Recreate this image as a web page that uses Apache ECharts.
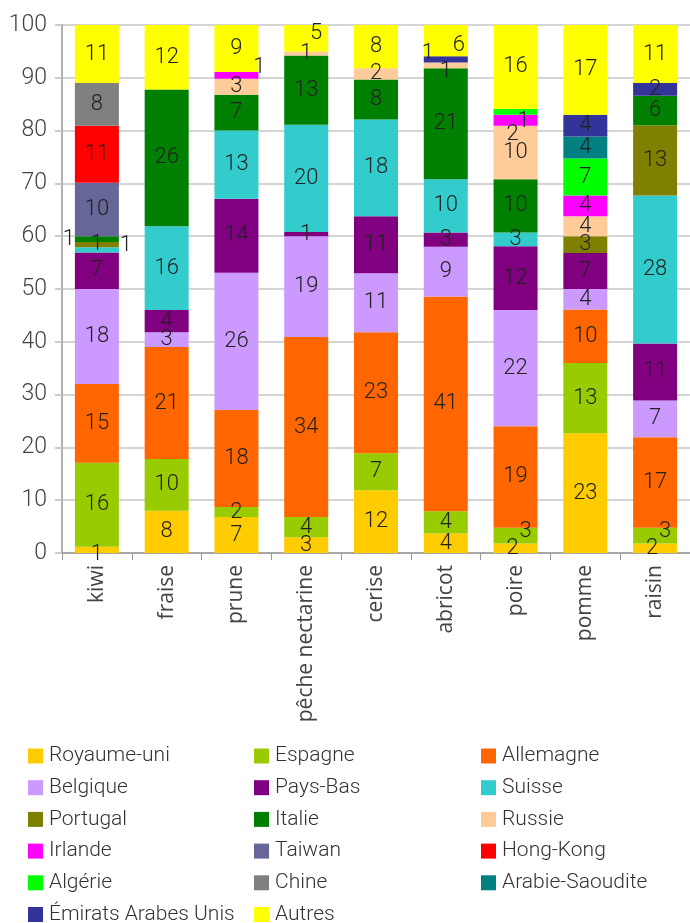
<!DOCTYPE html>
<html>
<head>
<meta charset="utf-8">
<script src="https://cdn.jsdelivr.net/npm/echarts@6/dist/echarts.min.js"></script>
<style>
  html, body { margin: 0; padding: 0; background: #fff; }
  #main { width: 690px; height: 923px; }
</style>
</head>
<body>
<div id="main"></div>
<script>
// parts de marché par fruit (en %)
var categories = ['kiwi', 'fraise', 'prune', 'pêche nectarine', 'cerise', 'abricot', 'poire', 'pomme', 'raisin'];
var yTicks = [0, 10, 20, 30, 40, 50, 60, 70, 80, 90, 100];

var royaumeUni = [1.2, 8.0, 6.8, 3.0, 11.9, 3.7, 1.8, 22.7, 1.8];
var espagne    = [15.9, 9.8, 1.9, 3.8, 7.0, 4.2, 3.0, 13.3, 3.0];
var allemagne  = [14.9, 21.2, 18.4, 34.1, 22.9, 40.7, 19.2, 10.1, 17.1];
var belgique   = [18.0, 2.8, 26.0, 19.1, 11.2, 9.4, 22.0, 3.9, 7.0];
var paysBas    = [6.9, 4.2, 14.0, 0.8, 10.8, 2.7, 12.1, 6.8, 10.8];
var suisse     = [1.0, 15.9, 12.9, 20.3, 18.3, 10.1, 2.6, 0, 28.0];
var portugal   = [1.0, 0, 0, 0, 0, 0, 0, 3.2, 13.3];
var italie     = [1.1, 25.9, 6.8, 13.1, 7.6, 21.0, 10.1, 0, 5.6];
var russie     = [0, 0, 3.0, 0.8, 2.1, 1.1, 10.1, 3.8, 0];
var irlande    = [0, 0, 1.3, 0, 0, 0, 2.1, 3.9, 0];
var taiwan     = [10.1, 0, 0, 0, 0, 0, 0, 0, 0];
var hongKong   = [10.8, 0, 0, 0, 0, 0, 0, 0, 0];
var algerie    = [0, 0, 0, 0, 0, 0, 1.1, 7.0, 0];
var chine      = [8.1, 0, 0, 0, 0, 0, 0, 0, 0];
var arabie     = [0, 0, 0, 0, 0, 0, 0, 4.2, 0];
var emirats    = [0, 0, 0, 0, 0, 1.2, 0, 4.1, 2.4];
var autres     = [11.0, 12.2, 8.9, 5.0, 8.2, 5.9, 15.9, 17.0, 11.0];

var seriesList = [
  ['Royaume-uni', royaumeUni, '#FFCC00'],
  ['Espagne', espagne, '#99CC00'],
  ['Allemagne', allemagne, '#FF6600'],
  ['Belgique', belgique, '#CC99FF'],
  ['Pays-Bas', paysBas, '#800080'],
  ['Suisse', suisse, '#33CCCC'],
  ['Portugal', portugal, '#808000'],
  ['Italie', italie, '#008000'],
  ['Russie', russie, '#FFCC99'],
  ['Irlande', irlande, '#FF00FF'],
  ['Taiwan', taiwan, '#666699'],
  ['Hong-Kong', hongKong, '#FF0000'],
  ['Algérie', algerie, '#00FF00'],
  ['Chine', chine, '#808080'],
  ['Arabie-Saoudite', arabie, '#008080'],
  ['Émirats Arabes Unis', emirats, '#333399'],
  ['Autres', autres, '#FFFF00']
];

// petits décalages des étiquettes qui se chevauchent
var labelShift = {
  'Italie|kiwi': [-28, 0],
  'Suisse|kiwi': [29, -4],
  'Royaume-uni|kiwi': [0, 5],
  'Irlande|prune': [23, -8],
  'Émirats Arabes Unis|abricot': [-18, -6],
  'Autres|abricot': [13, 5],
  'Russie|abricot': [0, 6],
  'Autres|pêche nectarine': [10, -5],
  'Algérie|poire': [8, 10],
  'Irlande|poire': [-3, 14],
  'Espagne|poire': [10, -4],
  'Espagne|raisin': [10, -4],
  'Royaume-uni|poire': [-3, 0],
  'Royaume-uni|raisin': [-3, 0]
};

var font = "Roboto, sans-serif";

var series = seriesList.map(function (s) {
  return {
    name: s[0],
    type: 'bar',
    stack: 'total',
    barWidth: 44,
    itemStyle: { color: s[2] },
    label: {
      show: true,
      position: 'inside',
      color: '#222',
      fontFamily: font,
      fontWeight: 300,
      fontSize: 22,
      formatter: function (p) {
        return p.value > 0 ? Math.round(p.value) : '';
      }
    },
    data: s[1].map(function (v, i) {
      var off = labelShift[s[0] + '|' + categories[i]];
      if (off) return { value: v, label: { offset: off } };
      return v;
    })
  };
});

var cols = [
  ['Royaume-uni', 'Belgique', 'Portugal', 'Irlande', 'Algérie', 'Émirats Arabes Unis'],
  ['Espagne', 'Pays-Bas', 'Italie', 'Taiwan', 'Chine', 'Autres'],
  ['Allemagne', 'Suisse', 'Russie', 'Hong-Kong', 'Arabie-Saoudite']
];
var colLeft = [28, 254, 481];
var legends = cols.map(function (c, k) {
  return {
    data: c,
    orient: 'vertical',
    left: colLeft[k],
    top: 745,
    height: 200,
    padding: 0,
    icon: 'rect',
    itemWidth: 15,
    itemHeight: 15,
    itemGap: 9.7,
    selectedMode: false,
    textStyle: {
      fontFamily: font,
      fontWeight: 300,
      fontSize: 21,
      lineHeight: 22,
      color: '#333',
      padding: [0, 0, 0, 1]
    }
  };
});

var myChart = echarts.init(document.getElementById('main'));
myChart.setOption({
  animation: false,
  legend: legends,
  grid: {
    left: 62,
    right: -5,
    top: 25,
    bottom: 370
  },
  xAxis: {
    type: 'category',
    data: categories,
    axisLine: { lineStyle: { color: '#999', width: 1.5 } },
    axisTick: { show: true, length: 7, lineStyle: { color: '#999' } },
    axisLabel: {
      rotate: 90,
      margin: 12,
      color: '#444',
      fontFamily: "'Open Sans', sans-serif",
      fontSize: 21
    }
  },
  yAxis: {
    type: 'value',
    min: yTicks[0],
    max: yTicks[yTicks.length - 1],
    interval: 10,
    axisLine: { show: true, lineStyle: { color: '#999', width: 1.5 } },
    axisTick: { show: true, length: 7, lineStyle: { color: '#ccc', width: 2 } },
    splitLine: { lineStyle: { color: '#d4d4d4', width: 2 } },
    axisLabel: {
      margin: 15,
      color: '#444',
      fontFamily: font,
      fontWeight: 300,
      fontSize: 23
    }
  },
  series: series
});
</script>
</body>
</html>
